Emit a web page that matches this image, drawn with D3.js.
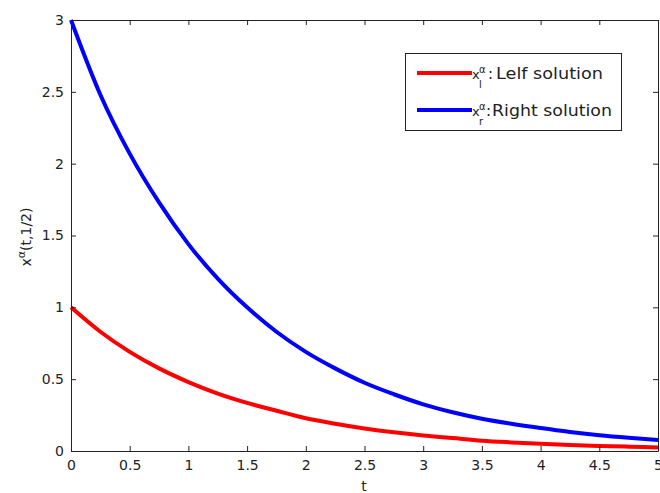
<!DOCTYPE html>
<html>
<head>
<meta charset="utf-8">
<script src="https://cdn.jsdelivr.net/npm/d3@7"></script>
<style>
  body { margin: 0; background: #fff; }
  svg text { font-family: "DejaVu Sans", Verdana, sans-serif; fill: #222; }
</style>
</head>
<body>
<svg id="chart" width="660" height="493"></svg>
<script>
// Data
const tValues = [0, 0.25, 0.5, 0.75, 1, 1.25, 1.5, 1.75, 2, 2.25, 2.5, 2.75, 3, 3.25, 3.5, 3.75, 4, 4.25, 4.5, 4.75, 5];
const leftSolution = [1.0, 0.83, 0.69, 0.575, 0.48, 0.40, 0.335, 0.28, 0.228, 0.19, 0.157, 0.13, 0.108, 0.09, 0.072, 0.06, 0.05, 0.042, 0.035, 0.03, 0.025];
const rightSolution = [3.0, 2.48, 2.07, 1.73, 1.44, 1.2, 1.0, 0.83, 0.69, 0.575, 0.475, 0.395, 0.325, 0.27, 0.225, 0.19, 0.16, 0.133, 0.11, 0.092, 0.077];
const xTicks = [0, 0.5, 1, 1.5, 2, 2.5, 3, 3.5, 4, 4.5, 5];
const yTicks = [0, 0.5, 1, 1.5, 2, 2.5, 3];
const seriesNames = ["Lelf solution", "Right solution"];
const seriesSubs = ["l", "r"];
const seriesColors = ["#ff0000", "#0000ff"];

const svg = d3.select("#chart");
const mLeft = 71, mRight = 658, mTop = 20, mBottom = 451;
const x = d3.scaleLinear().domain([0, 5]).range([mLeft, mRight]);
const y = d3.scaleLinear().domain([0, 3]).range([mBottom, mTop]);

// Curves
const line = d3.line().curve(d3.curveMonotoneX).x(d => x(d[0])).y(d => y(d[1]));
[leftSolution, rightSolution].forEach((vals, i) => {
  svg.append("path")
    .datum(tValues.map((t, j) => [t, vals[j]]))
    .attr("d", line)
    .attr("fill", "none")
    .attr("stroke", seriesColors[i])
    .attr("stroke-width", 4)
    .attr("stroke-linejoin", "round");
});

// Axes (MATLAB style, inward ticks on all sides)
const axisStyle = g => {
  g.select(".domain").attr("stroke", "#222");
  g.selectAll(".tick line").attr("stroke", "#222");
  g.selectAll(".tick text").attr("font-size", 14).attr("fill", "#222")
    .attr("font-family", "'DejaVu Sans', Verdana, sans-serif");
};
svg.append("g").attr("transform", `translate(0,${mBottom})`)
  .call(d3.axisBottom(x).tickValues(xTicks).tickFormat(d3.format("")).tickSizeInner(-5).tickSizeOuter(0).tickPadding(9))
  .call(axisStyle);
svg.append("g").attr("transform", `translate(0,${mTop})`)
  .call(d3.axisTop(x).tickValues(xTicks).tickFormat("").tickSizeInner(-5).tickSizeOuter(0))
  .call(axisStyle);
svg.append("g").attr("transform", `translate(${mLeft},0)`)
  .call(d3.axisLeft(y).tickValues(yTicks).tickFormat(d3.format("")).tickSizeInner(-5).tickSizeOuter(0).tickPadding(7))
  .call(axisStyle);
svg.append("g").attr("transform", `translate(${mRight},0)`)
  .call(d3.axisRight(y).tickValues(yTicks).tickFormat("").tickSizeInner(-5).tickSizeOuter(0))
  .call(axisStyle);

// Axis labels
svg.append("text").attr("x", 364).attr("y", 491).attr("text-anchor", "middle")
  .attr("font-size", 14).text("t");
const yl = svg.append("text").attr("transform", "translate(31,237) rotate(-90)")
  .attr("text-anchor", "middle").attr("font-size", 14);
yl.append("tspan").text("x");
yl.append("tspan").attr("dy", -6).attr("font-size", 11).text("α");
yl.append("tspan").attr("dy", 6).text("(t,1/2)");

// Legend
const lg = svg.append("g");
lg.append("rect").attr("x", 405.5).attr("y", 53.5).attr("width", 216).attr("height", 77)
  .attr("fill", "#fff").attr("stroke", "#222").attr("stroke-width", 1);
const rowsY = [73, 110];
const colonX = [488, 486];
const nameX = [496, 492];
const nameW = [107, 120];
seriesNames.forEach((name, i) => {
  const ly = rowsY[i];
  lg.append("line").attr("x1", 417).attr("x2", 472).attr("y1", ly).attr("y2", ly)
    .attr("stroke", seriesColors[i]).attr("stroke-width", 4);
  lg.append("text").attr("x", 472).attr("y", ly + 6).attr("font-size", 13).text("x");
  lg.append("text").attr("x", 479).attr("y", ly).attr("font-size", 10).text("α");
  lg.append("text").attr("x", 479).attr("y", ly + 15).attr("font-size", 10).text(seriesSubs[i]);
  lg.append("text").attr("x", colonX[i]).attr("y", ly + 6).attr("font-size", 15).text(":");
  lg.append("text").attr("x", nameX[i]).attr("y", ly + 6).attr("font-size", 15)
    .attr("textLength", nameW[i]).attr("lengthAdjust", "spacingAndGlyphs").text(name);
});
</script>
</body>
</html>
